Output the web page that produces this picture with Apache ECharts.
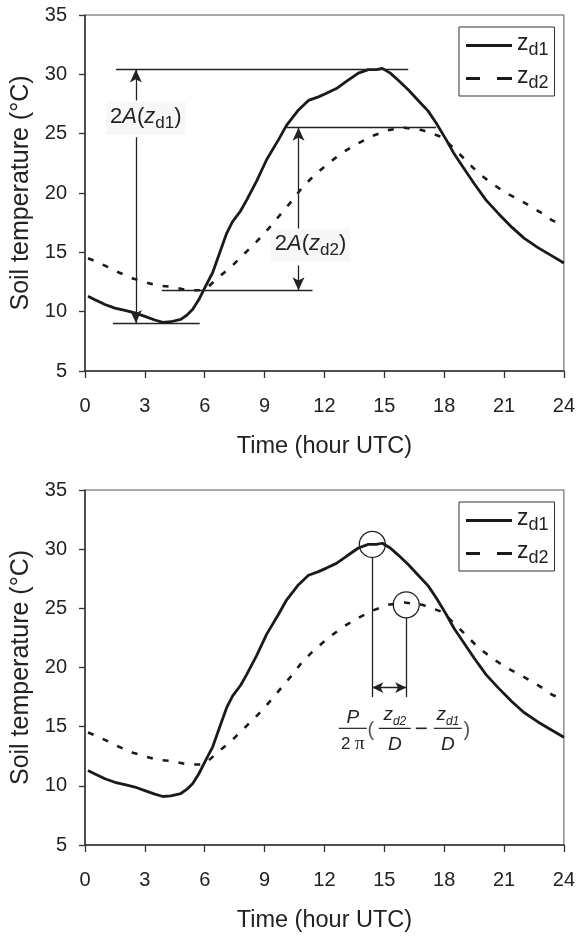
<!DOCTYPE html>
<html>
<head>
<meta charset="utf-8">
<script src="https://cdn.jsdelivr.net/npm/echarts@6/dist/echarts.min.js"></script>
<style>
html,body{margin:0;padding:0;background:#fff;}
#main{width:578px;height:937px;}
</style>
</head>
<body>
<div id="main"></div>
<script>
// soil temperature at two depths
var hoursD1 = [0.15,0.5,1.0,1.5,2.0,2.5,3.0,3.5,3.9,4.3,4.8,5.1,5.4,5.7,6.0,6.4,6.8,7.1,7.4,7.8,8.1,8.6,9.1,9.7,10.1,10.7,11.2,11.7,12.1,12.6,13.1,13.7,14.2,14.6,14.9,15.3,15.7,16.2,16.7,17.2,17.6,18.1,18.5,18.9,19.5,20.1,20.7,21.4,22.0,22.7,23.4,24.0];
var tempD1  = [11.3,11.0,10.6,10.3,10.1,9.9,9.6,9.3,9.1,9.15,9.35,9.7,10.2,11.0,12.0,13.3,15.2,16.6,17.6,18.5,19.4,21.0,22.8,24.5,25.7,27.0,27.8,28.1,28.4,28.8,29.4,30.1,30.4,30.4,30.5,30.1,29.5,28.7,27.8,26.9,25.9,24.5,23.3,22.3,20.8,19.4,18.3,17.1,16.2,15.4,14.7,14.1];
var hoursD2 = [0.15,0.6,1.1,1.7,2.4,3.0,3.6,4.3,5.2,5.8,6.1,6.7,7.4,8.0,8.6,9.2,9.7,10.4,10.9,11.5,12.2,12.9,13.7,14.4,15.2,16.0,16.9,17.9,18.7,19.7,20.4,21.1,21.8,22.4,23.0,23.4,24.0];
var tempD2  = [14.5,14.2,13.8,13.3,12.8,12.5,12.2,12.1,11.8,11.8,12.0,12.9,13.9,14.9,15.9,17.0,18.0,19.4,20.5,21.5,22.5,23.4,24.2,24.8,25.3,25.5,25.3,24.7,23.4,21.7,20.8,20.0,19.4,18.8,18.2,17.7,17.3];
var xTicks = [0,3,6,9,12,15,18,21,24];
var yTicks = [5,10,15,20,25,30,35];

// annotation values (amplitude lines / phase shift)
var maxD1 = 30.4, minD1 = 9.05, maxD2 = 25.5, minD2 = 11.8;
var peakHourD1 = 14.4, peakHourD2 = 16.1;
var formulaAnchor = [12.72, 14.86];

var FONT = '"Liberation Sans", Arial, sans-serif';
var INK = '#222';

function zip(h, t) { return h.map(function (x, i) { return [x, t[i]]; }); }
function seg(a, b, endSym) {
  return [{coord: a, symbol: 'none'}, {coord: b, symbol: endSym || 'none'}];
}

var chart = echarts.init(document.getElementById('main'));

function xAxis(gi) {
  return {
    type: 'value', gridIndex: gi,
    min: xTicks[0], max: xTicks[xTicks.length - 1], interval: xTicks[1] - xTicks[0],
    name: 'Time (hour UTC)', nameLocation: 'middle', nameGap: 64,
    nameTextStyle: {fontFamily: FONT, fontSize: 23.5, color: INK},
    axisLine: {lineStyle: {color: '#333', width: 1.5}},
    axisTick: {length: 7, lineStyle: {color: '#333', width: 1.3}},
    axisLabel: {margin: 25, fontFamily: FONT, fontSize: 20, color: INK},
    splitLine: {show: false}
  };
}
function yAxis(gi) {
  return {
    type: 'value', gridIndex: gi,
    min: yTicks[0], max: yTicks[yTicks.length - 1], interval: yTicks[1] - yTicks[0],
    name: 'Soil temperature (\u00b0C)', nameLocation: 'middle', nameGap: 50,
    nameTextStyle: {fontFamily: FONT, fontSize: 25, color: INK},
    axisLine: {show: true, lineStyle: {color: '#333', width: 1.5}},
    axisTick: {show: true, length: 6, lineStyle: {color: '#333', width: 1.3}},
    axisLabel: {margin: 18, fontFamily: FONT, fontSize: 20, color: INK},
    splitLine: {show: false}
  };
}
var iconSolid = 'path://M0,0h46v3h-46z';
var iconDash = 'path://M0,0h14v3h-14zM31,0h15v3h-15z';
function legend(top) {
  return {
    left: 459, top: top, orient: 'vertical',
    padding: [5, 6, 4, 7], itemGap: 6, itemWidth: 46, itemHeight: 3,
    borderColor: '#333', borderWidth: 1, backgroundColor: '#fff',
    selectedMode: false,
    data: [{name: 'z_d1', icon: iconSolid}, {name: 'z_d2', icon: iconDash}],
    formatter: function (n) { return '{z|z}{s|' + n.slice(2) + '}'; },
    textStyle: {
      rich: {
        z: {fontFamily: FONT, fontSize: 23, color: INK, verticalAlign: 'bottom', padding: [0, 0, 4, 0]},
        s: {fontFamily: FONT, fontSize: 18, color: INK, verticalAlign: 'bottom'}
      }
    }
  };
}
var richLbl = {
  n: {fontFamily: FONT, fontSize: 22, color: INK, verticalAlign: 'bottom', padding: [0, 0, 4, 0]},
  i: {fontFamily: FONT, fontSize: 22, fontStyle: 'italic', color: INK, verticalAlign: 'bottom', padding: [0, 0, 4, 0]},
  s: {fontFamily: FONT, fontSize: 17, color: INK, verticalAlign: 'bottom'}
};
var markLineBase = {
  silent: true, animation: false,
  symbolSize: [9, 13],
  label: {show: false},
  lineStyle: {color: INK, width: 1.3, type: 'solid'},
  emphasis: {disabled: true}
};
function lineSeries(name, gi, h, t, dashed, extra) {
  var s = {
    name: name, type: 'line', xAxisIndex: gi, yAxisIndex: gi,
    data: zip(h, t), showSymbol: false, symbol: 'none', smooth: false,
    lineStyle: {color: '#1a1a1a', width: dashed ? 2.6 : 2.8, type: dashed ? [6, 10] : 'solid'},
    itemStyle: {color: '#1a1a1a'},
    emphasis: {disabled: true}, animation: false
  };
  return Object.assign(s, extra || {});
}

var option = {
  backgroundColor: '#fff',
  grid: [
    {left: 85, top: 15, width: 481, height: 356, show: true, borderColor: '#555', borderWidth: 1},
    {left: 85, top: 490, width: 481, height: 355, show: true, borderColor: '#555', borderWidth: 1}
  ],
  xAxis: [xAxis(0), xAxis(1)],
  yAxis: [yAxis(0), yAxis(1)],
  legend: [legend(27), legend(502)],
  series: [
    lineSeries('z_d1', 0, hoursD1, tempD1, false, {
      markLine: Object.assign({}, markLineBase, {
        data: [
          seg([1.55, maxD1], [16.2, maxD1]),
          seg([1.4, minD1], [5.75, minD1]),
          seg([2.55, 27.8], [2.55, maxD1], 'arrow'),
          seg([2.55, 24.7], [2.55, minD1], 'arrow'),
          seg([10.1, maxD2], [17.6, maxD2]),
          seg([3.85, minD2], [11.4, minD2]),
          seg([10.7, 17.0], [10.7, maxD2], 'arrow'),
          seg([10.7, 13.9], [10.7, minD2], 'arrow')
        ]
      }),
      markPoint: {
        silent: true, animation: false,
        symbol: 'rect', symbolSize: 1,
        itemStyle: {color: 'rgba(0,0,0,0)'},
        label: {
          show: true, position: 'inside',
          backgroundColor: '#f7f7f7', padding: [4, 4, 3, 4],
          formatter: function (p) { return '{n|2}{i|A}{n|(}{i|z}{s|' + p.name + '}{n|)}'; },
          rich: richLbl
        },
        data: [
          {name: 'd1', coord: [3.05, 26.3]},
          {name: 'd2', coord: [11.3, 15.6]}
        ]
      }
    }),
    lineSeries('z_d2', 0, hoursD2, tempD2, true),
    lineSeries('z_d1', 1, hoursD1, tempD1, false, {
      markLine: Object.assign({}, markLineBase, {
        symbolSize: [8, 11],
        data: [
          seg([peakHourD1, 29.3], [peakHourD1, 17.5]),
          seg([peakHourD2, 24.2], [peakHourD2, 17.5]),
          [{coord: [peakHourD1, 18.3], symbol: 'arrow'}, {coord: [peakHourD2, 18.3], symbol: 'arrow'}]
        ]
      }),
      markPoint: {
        silent: true, animation: false,
        symbol: 'circle', symbolSize: 26,
        itemStyle: {color: 'rgba(0,0,0,0)', borderColor: INK, borderWidth: 1.3},
        label: {show: false},
        data: [
          {coord: [peakHourD1, maxD1]},
          {coord: [peakHourD2, 25.3]}
        ]
      }
    }),
    lineSeries('z_d2', 1, hoursD2, tempD2, true)
  ]
};
chart.setOption(option);

// phase-shift formula  P/2pi (z_d2/D - z_d1/D)
var o = chart.convertToPixel({xAxisIndex: 1, yAxisIndex: 1}, formulaAnchor);
function txt(x, y, text, font, color) {
  return {type: 'text', x: x, y: y, silent: true,
    style: {text: text, font: font, fill: color || INK, textAlign: 'center', textVerticalAlign: 'middle'}};
}
function rtxt(x, y, text, rich) {
  return {type: 'text', x: x, y: y, silent: true,
    style: {text: text, rich: rich, fill: INK, textAlign: 'center', textVerticalAlign: 'middle'}};
}
function bar(x1, x2, w) {
  return {type: 'line', silent: true, shape: {x1: x1, y1: 0, x2: x2, y2: 0}, style: {stroke: INK, lineWidth: w || 1.2}};
}
var zRich = {
  z: {fontFamily: FONT, fontSize: 19, fontStyle: 'italic', color: INK, verticalAlign: 'bottom', padding: [0, 0, 3, 0]},
  s: {fontFamily: FONT, fontSize: 12, fontStyle: 'italic', color: INK, verticalAlign: 'bottom'},
  a: {fontFamily: FONT, fontSize: 17, color: INK},
  p: {fontFamily: '"Liberation Serif", serif', fontSize: 19, color: INK}
};
chart.setOption({
  graphic: [{
    type: 'group', x: o[0], y: o[1],
    children: [
      txt(14, -11, 'P', 'italic 19px ' + FONT),
      bar(0, 28),
      rtxt(14, 16, '{a|2}{p| \u03c0}', zRich),
      txt(32, 2, '(', '20px ' + FONT, '#555'),
      rtxt(56, -12, '{z|z}{s|d2}', zRich),
      bar(40, 72),
      txt(56, 16, 'D', 'italic 19px ' + FONT),
      bar(77, 88, 1.6),
      rtxt(109, -12, '{z|z}{s|d1}', zRich),
      bar(95, 123),
      txt(109, 16, 'D', 'italic 19px ' + FONT),
      txt(128, 2, ')', '20px ' + FONT, '#555')
    ]
  }]
});
</script>
</body>
</html>
